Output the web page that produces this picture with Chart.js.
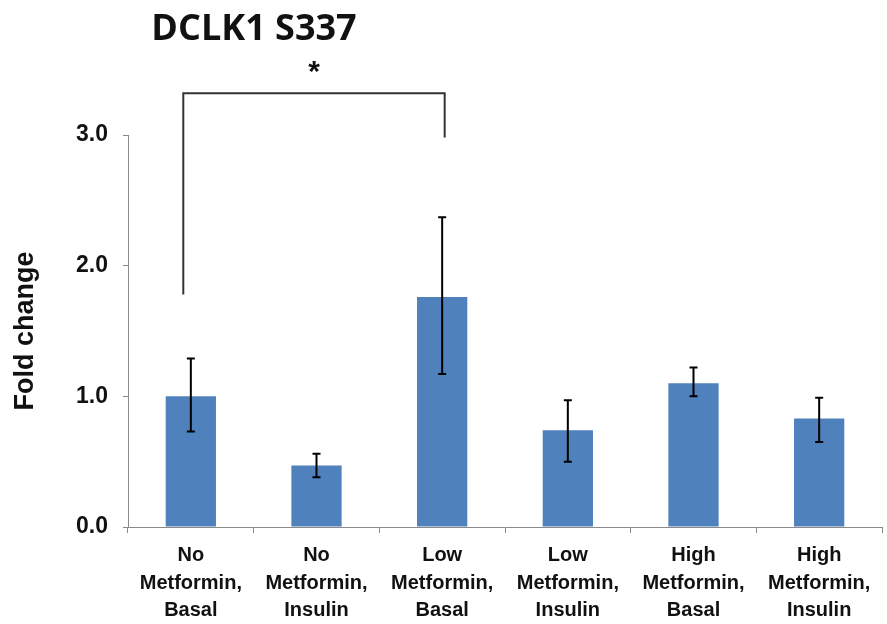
<!DOCTYPE html>
<html>
<head>
<meta charset="utf-8">
<script src="https://cdn.jsdelivr.net/npm/chart.js@4.4.1/dist/chart.umd.min.js"></script>
<style>
  html, body { margin: 0; padding: 0; background: #fff; }
  #c { display: block; }
</style>
</head>
<body>
<canvas id="c" width="887" height="624"></canvas>
<script>
// Groups and their mean fold change with error (lower / upper ends)
const categories = [
  ['No', 'Metformin,', 'Basal'],
  ['No', 'Metformin,', 'Insulin'],
  ['Low', 'Metformin,', 'Basal'],
  ['Low', 'Metformin,', 'Insulin'],
  ['High', 'Metformin,', 'Basal'],
  ['High', 'Metformin,', 'Insulin']
];
const foldChange = [1.00, 0.47, 1.76, 0.74, 1.10, 0.83];
const errLow     = [0.73, 0.38, 1.17, 0.50, 1.00, 0.65];
const errHigh    = [1.29, 0.56, 2.37, 0.97, 1.22, 0.99];
const yTicks     = [0, 1, 2, 3];

// Significance bracket between group 0 and group 2
const bracketFrom = -0.06, bracketTo = 2.02;
const bracketLeftBottom = 1.78, bracketTop = 3.32, bracketRightBottom = 2.98;
const sigLabel = '*';

const AXIS_GREY = '#8a8a8a';
const BAR_BLUE = '#4F81BD';

const errorBars = {
  id: 'errorBars',
  afterDatasetsDraw(chart) {
    const ctx = chart.ctx;
    const meta = chart.getDatasetMeta(0);
    const y = chart.scales.y;
    ctx.save();
    ctx.strokeStyle = '#000';
    ctx.lineWidth = 2;
    meta.data.forEach((bar, i) => {
      const x = bar.x;
      const y1 = y.getPixelForValue(errLow[i]);
      const y2 = y.getPixelForValue(errHigh[i]);
      ctx.beginPath();
      ctx.moveTo(x, y1); ctx.lineTo(x, y2);
      ctx.moveTo(x - 4, y1); ctx.lineTo(x + 4, y1);
      ctx.moveTo(x - 4, y2); ctx.lineTo(x + 4, y2);
      ctx.stroke();
    });
    ctx.restore();
  }
};

const annotations = {
  id: 'annotations',
  afterDraw(chart) {
    const ctx = chart.ctx;
    const xs = chart.scales.x, ys = chart.scales.y;
    ctx.save();
    // heading
    ctx.fillStyle = '#111';
    ctx.font = 'bold 36px "Open Sans", "Liberation Sans", sans-serif';
    ctx.textAlign = 'center';
    ctx.textBaseline = 'alphabetic';
    ctx.fillText('DCLK1 S337', 254, 40);
    // bracket
    const xl = xs.getPixelForValue(bracketFrom);
    const xr = xs.getPixelForValue(bracketTo);
    ctx.strokeStyle = '#333';
    ctx.lineWidth = 2;
    ctx.beginPath();
    ctx.moveTo(xl, ys.getPixelForValue(bracketLeftBottom));
    ctx.lineTo(xl, ys.getPixelForValue(bracketTop));
    ctx.lineTo(xr, ys.getPixelForValue(bracketTop));
    ctx.lineTo(xr, ys.getPixelForValue(bracketRightBottom));
    ctx.stroke();
    // star
    ctx.fillStyle = '#111';
    ctx.font = 'bold 30px "Liberation Sans", Arial, sans-serif';
    ctx.textBaseline = 'middle';
    ctx.fillText(sigLabel, (xl + xr) / 2, ys.getPixelForValue(bracketTop) - 20);
    ctx.restore();
  }
};

new Chart(document.getElementById('c'), {
  type: 'bar',
  data: {
    labels: categories,
    datasets: [{
      data: foldChange,
      backgroundColor: BAR_BLUE,
      borderWidth: 0,
      barPercentage: 0.4,
      categoryPercentage: 1.0
    }]
  },
  options: {
    responsive: false,
    animation: false,
    layout: { padding: { top: 135, right: 5, left: 0, bottom: 0 } },
    plugins: { legend: { display: false }, tooltip: { enabled: false }, title: { display: false } },
    scales: {
      x: {
        afterFit(s) { s.height = 97; },
        grid: { drawOnChartArea: false, offset: true, tickLength: 6, color: AXIS_GREY },
        border: { color: AXIS_GREY, width: 1 },
        ticks: {
          color: '#111',
          maxRotation: 0,
          autoSkip: false,
          padding: 9,
          font: { family: '"Liberation Sans Narrow", "Liberation Sans", Arial, sans-serif', weight: 'bold', size: 20, lineHeight: 1.37 }
        }
      },
      y: {
        min: 0,
        max: 3,
        afterFit(s) { s.width = 128; },
        afterBuildTicks(s) { s.ticks = yTicks.map(v => ({ value: v })); },
        grid: { drawOnChartArea: false, tickLength: 5, color: AXIS_GREY },
        border: { color: AXIS_GREY, width: 1 },
        ticks: {
          color: '#111',
          padding: 15,
          callback: v => Number(v).toFixed(1),
          font: { family: '"Liberation Sans", Arial, sans-serif', weight: 'bold', size: 23 }
        },
        title: {
          display: true,
          text: 'Fold change',
          color: '#111',
          padding: { top: 9, bottom: 0 },
          font: { family: '"Liberation Sans", Arial, sans-serif', weight: 'bold', size: 27 }
        }
      }
    }
  },
  plugins: [errorBars, annotations]
});
</script>
</body>
</html>
